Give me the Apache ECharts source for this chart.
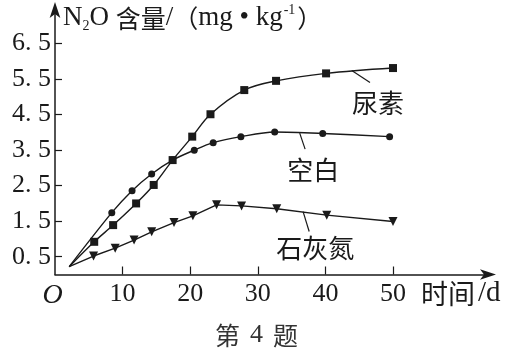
<!DOCTYPE html>
<html><head><meta charset="utf-8">
<script src="https://cdn.jsdelivr.net/npm/echarts@6/dist/echarts.min.js"></script>
<style>html,body{margin:0;padding:0;background:#fff}#c{width:514px;height:356px}</style>
</head><body><div id="c"></div>
<script>
// ---- data ----
var xTicks = [0, 10, 20, 30, 40, 50];
var yTicks = [0.5, 1.5, 2.5, 3.5, 4.5, 5.5, 6.5];
var startPoint = [2.1, 0.22];
var ureaDays   = [5.8, 8.6, 12.0, 14.6, 17.4, 20.3, 23.0, 28.0, 32.7, 40.1, 50.0];
var ureaVals   = [0.92, 1.39, 2.00, 2.52, 3.22, 3.88, 4.51, 5.19, 5.45, 5.66, 5.81];
var blankDays  = [8.4, 11.4, 14.3, 17.4, 20.6, 23.4, 27.5, 32.5, 39.6, 49.5];
var blankVals  = [1.74, 2.36, 2.83, 3.22, 3.50, 3.71, 3.88, 4.01, 3.97, 3.88];
var limeDays   = [5.7, 8.9, 11.7, 14.3, 17.6, 20.4, 23.9, 27.6, 32.8, 40.2, 50.0];
var limeVals   = [0.52, 0.74, 0.97, 1.20, 1.46, 1.65, 1.96, 1.93, 1.85, 1.67, 1.49];
var seriesNames = ['尿素', '空白', '石灰氮'];
// annotation anchors (data space): leader line start, end, label position
var ureaNote  = [[43.9, 5.74], [46.6, 5.40], [47.8, 4.83]];
var blankNote = [[36.2, 3.98], [37.0, 3.53], [38.2, 2.94]];
var limeNote  = [[36.7, 1.77], [37.6, 1.21], [38.5, 0.74]];

var SERIF = 'Liberation Serif, Noto Sans CJK SC, serif';
var CJK = 'Noto Sans CJK SC, sans-serif';
var INK = '#1a1a1a';

function build(days, vals) {
  var d = [{value: startPoint.slice(), symbol: 'none'}];
  for (var i = 0; i < days.length; i++) d.push([days[i], vals[i]]);
  return d;
}
function notes(n, name) {
  return {
    markLine: {
      silent: true, symbol: ['none', 'none'], animation: false,
      lineStyle: {color: INK, width: 1.2, type: 'solid'},
      label: {show: false},
      data: [[{coord: n[0]}, {coord: n[1]}]]
    },
    markPoint: {
      silent: true, symbolSize: 0, animation: false,
      label: {show: true, position: 'inside', formatter: name,
              fontFamily: CJK, fontSize: 26, color: INK},
      data: [{coord: n[2]}]
    }
  };
}

var chart = echarts.init(document.getElementById('c'), null, {renderer: 'canvas'});
var base = {type: 'line', animation: false, lineStyle: {color: INK, width: 1.4},
            itemStyle: {color: INK}, emphasis: {disabled: true}};
var s1 = Object.assign({}, base, {name: seriesNames[0], data: build(ureaDays, ureaVals),
            smooth: 0.35, symbol: 'rect', symbolSize: 8}, notes(ureaNote, seriesNames[0]));
var s2 = Object.assign({}, base, {name: seriesNames[1], data: build(blankDays, blankVals),
            smooth: 0.3, symbol: 'circle', symbolSize: 7}, notes(blankNote, seriesNames[1]));
var s3 = Object.assign({}, base, {name: seriesNames[2], data: build(limeDays, limeVals),
            smooth: false, symbol: 'triangle', symbolRotate: 180, symbolSize: 9}, notes(limeNote, seriesNames[2]));

chart.setOption({
  backgroundColor: '#fff',
  animation: false,
  grid: {left: 55, right: 24, top: 8, bottom: 81.5, containLabel: false},
  xAxis: {
    type: 'value', min: 0, max: 64.35,
    splitLine: {show: false},
    axisLine: {show: true, lineStyle: {color: INK, width: 1.5}, symbol: ['none', 'arrow'], symbolSize: [8, 16], symbolOffset: [0, 6]},
    axisTick: {show: true, inside: true, length: 8, lineStyle: {color: INK, width: 1.2}, customValues: xTicks.slice(1)},
    axisLabel: {show: true, margin: 7, color: INK, fontFamily: SERIF, fontSize: 26,
      customValues: xTicks,
      formatter: function (v) { return v === 0 ? '{o|O}' : String(v); },
      rich: {o: {fontFamily: SERIF, fontStyle: 'italic', fontSize: 28, color: INK, padding: [0, 5, 0, 0]}}}
  },
  yAxis: {
    type: 'value', min: 0, max: 7.5,
    splitLine: {show: false},
    axisLine: {show: true, lineStyle: {color: INK, width: 1.5}, symbol: ['none', 'arrow'], symbolSize: [8, 16], symbolOffset: [0, 6]},
    axisTick: {show: true, inside: true, length: 7, lineStyle: {color: INK, width: 1.2}, customValues: yTicks},
    axisLabel: {show: true, margin: 4, color: INK, fontFamily: SERIF, fontSize: 26,
      customValues: yTicks,
      formatter: function (v) { return v.toFixed(1).replace('.', '. '); }}
  },
  graphic: [
    {type: 'text', left: 63, top: 3, silent: true,
     style: {text: '{a|N}{s|2}{a|O }{c|含量}{a|/}{c|（}{a|mg • kg}{p|-1}{c|）}',
       rich: {
         a: {fontFamily: SERIF, fontSize: 27, fill: INK, lineHeight: 30},
         c: {fontFamily: CJK, fontSize: 25, fill: INK, lineHeight: 30},
         s: {fontFamily: SERIF, fontSize: 14, fill: INK, verticalAlign: 'bottom', lineHeight: 14},
         p: {fontFamily: SERIF, fontSize: 14, fill: INK, verticalAlign: 'top', lineHeight: 14, padding: [0, 2, 0, 1]}
       }}},
    {type: 'text', left: 421, top: 279, silent: true,
     style: {text: '{c|时间}{a|/d}', rich: {
       a: {fontFamily: SERIF, fontSize: 29, fill: INK, lineHeight: 30, padding: [0, 0, 0, 3]},
       c: {fontFamily: CJK, fontSize: 27, fill: INK, lineHeight: 30}}}},
    {type: 'text', left: 215, top: 322, silent: true,
     style: {text: '{c|第}{a|4}{c|题}', rich: {
       a: {fontFamily: SERIF, fontSize: 26, fill: '#333', lineHeight: 28, padding: [0, 10, 0, 10]},
       c: {fontFamily: CJK, fontSize: 25, fill: '#333', lineHeight: 28}}}}
  ],
  series: [s1, s2, s3]
});
</script></body></html>
